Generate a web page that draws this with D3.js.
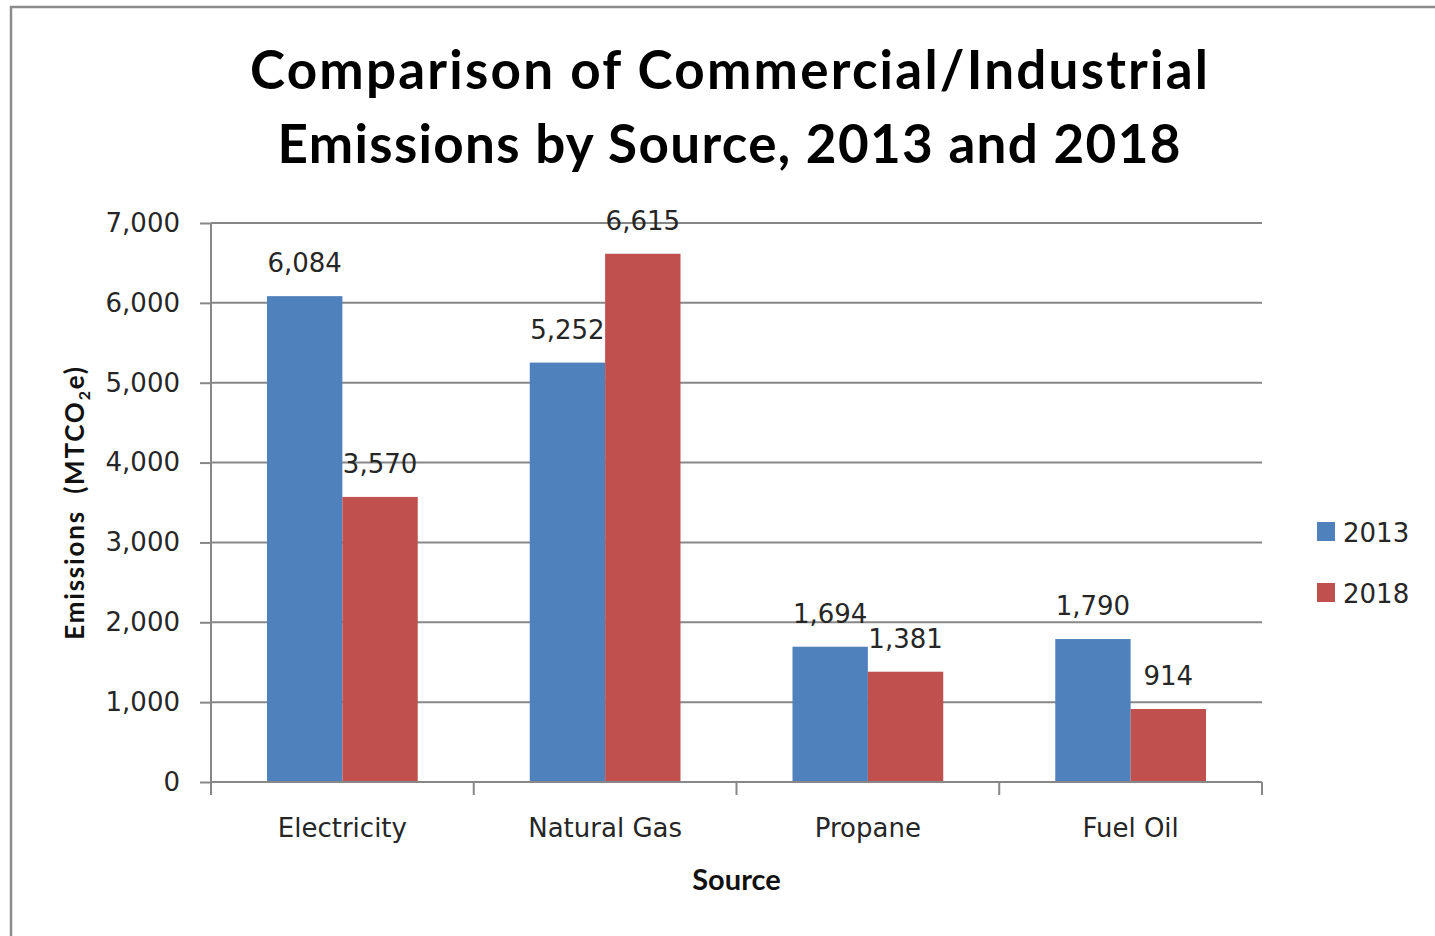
<!DOCTYPE html>
<html>
<head>
<meta charset="utf-8">
<script src="https://cdn.jsdelivr.net/npm/d3@7"></script>
<style>
  body { margin: 0; background: #fff; }
  svg { display: block; }
  .tick text { font-family: "DejaVu Sans", sans-serif; font-size: 26px; fill: #262626; }
</style>
</head>
<body>
<svg width="1435" height="936"></svg>
<script>
// data
const categories = ['Electricity', 'Natural Gas', 'Propane', 'Fuel Oil'];
const seriesNames = ['2013', '2018'];
const values2013 = [6084, 5252, 1694, 1790];
const values2018 = [3570, 6615, 1381, 914];
const yTicks = [0, 1000, 2000, 3000, 4000, 5000, 6000, 7000];
const colors = ['#4F81BD', '#C0504D'];

const margin = { left: 211, right: 173, top: 223, bottom: 154 };
const svg = d3.select('svg');
const width = +svg.attr('width');
const height = +svg.attr('height');
const gridColor = '#878787';
const fmt = d3.format(',');

// outer frame
svg.append('rect')
  .attr('x', 11).attr('y', 7)
  .attr('width', 1600).attr('height', 1200)
  .attr('fill', 'none')
  .attr('stroke', '#8c8c8c')
  .attr('stroke-width', 2.5);

const rows = categories.map((c, i) => ({ cat: c, vals: [values2013[i], values2018[i]] }));

const xScale = d3.scaleBand()
  .domain(categories)
  .range([margin.left, width - margin.right]);

const xInner = d3.scaleBand()
  .domain(seriesNames)
  .range([56, xScale.bandwidth() - 56]);

const yScale = d3.scaleLinear()
  .domain([0, 7000])
  .range([height - margin.bottom, margin.top]);

// gridlines
svg.append('g')
  .selectAll('line')
  .data(yTicks)
  .enter()
  .append('line')
  .attr('x1', margin.left)
  .attr('x2', width - margin.right)
  .attr('y1', d => yScale(d))
  .attr('y2', d => yScale(d))
  .attr('stroke', gridColor)
  .attr('stroke-width', 2);

// y axis
const yAxis = d3.axisLeft(yScale)
  .tickValues(yTicks)
  .tickFormat(fmt)
  .tickSize(11)
  .tickPadding(20);

const yG = svg.append('g')
  .attr('transform', `translate(${margin.left},0)`)
  .call(yAxis);
yG.select('.domain').remove();
yG.selectAll('.tick line').attr('stroke', gridColor).attr('stroke-width', 2);
yG.append('line')
  .attr('x1', 0).attr('x2', 0)
  .attr('y1', margin.top).attr('y2', yScale(0) + 13)
  .attr('stroke', gridColor).attr('stroke-width', 2);

// bars
const groups = svg.selectAll('.cat')
  .data(rows)
  .enter()
  .append('g')
  .attr('class', 'cat')
  .attr('transform', d => `translate(${xScale(d.cat)},0)`);

groups.selectAll('rect')
  .data(d => d.vals.map((v, i) => ({ key: seriesNames[i], v: v, i: i })))
  .enter()
  .append('rect')
  .attr('x', d => xInner(d.key))
  .attr('width', xInner.bandwidth())
  .attr('y', d => yScale(d.v))
  .attr('height', d => yScale(0) - yScale(d.v))
  .attr('fill', d => colors[d.i]);

// value labels
groups.selectAll('.val')
  .data(d => d.vals.map((v, i) => ({ key: seriesNames[i], v: v })))
  .enter()
  .append('text')
  .attr('class', 'val')
  .attr('x', d => xInner(d.key) + xInner.bandwidth() / 2)
  .attr('y', d => yScale(d.v) - 24)
  .attr('text-anchor', 'middle')
  .style('font-family', '"DejaVu Sans", sans-serif')
  .style('font-size', '26px')
  .style('fill', '#262626')
  .text(d => fmt(d.v));

// x axis
const xAxisG = svg.append('g');
xAxisG.append('line')
  .attr('x1', margin.left).attr('x2', width - margin.right)
  .attr('y1', yScale(0)).attr('y2', yScale(0))
  .attr('stroke', gridColor).attr('stroke-width', 2);
const bounds = categories.map(c => xScale(c)).concat([width - margin.right]);
xAxisG.selectAll('.xt')
  .data(bounds)
  .enter()
  .append('line')
  .attr('x1', d => d).attr('x2', d => d)
  .attr('y1', yScale(0)).attr('y2', yScale(0) + 13)
  .attr('stroke', gridColor).attr('stroke-width', 2);
xAxisG.selectAll('.xl')
  .data(categories)
  .enter()
  .append('text')
  .attr('x', d => xScale(d) + xScale.bandwidth() / 2)
  .attr('y', 837)
  .attr('text-anchor', 'middle')
  .style('font-family', '"DejaVu Sans", sans-serif')
  .style('font-size', '26px')
  .style('fill', '#262626')
  .text(d => d);

// axis titles
svg.append('text')
  .attr('x', (margin.left + width - margin.right) / 2)
  .attr('y', 890)
  .attr('text-anchor', 'middle')
  .style('font-family', 'Lato, sans-serif')
  .style('font-weight', 'bold')
  .style('font-size', '29px')
  .style('fill', '#111')
  .text('Source');

const yTitle = svg.append('text')
  .attr('transform', `translate(84, ${(yScale(0) + yScale(7000)) / 2}) rotate(-90)`)
  .attr('text-anchor', 'middle')
  .style('font-family', 'Lato, sans-serif')
  .style('font-weight', 'bold')
  .style('font-size', '26px')
  .style('letter-spacing', '1.8px')
  .style('fill', '#111');
yTitle.append('tspan').text('Emissions\u00a0 (MTCO');
yTitle.append('tspan').attr('dy', 6).style('font-size', '16px').text('2');
yTitle.append('tspan').attr('dy', -6).text('e)');

// title
const titleLines = ['Comparison of Commercial/Industrial', 'Emissions by Source, 2013 and 2018'];
const titleWidths = [958, 903];
svg.selectAll('.title')
  .data(titleLines)
  .enter()
  .append('text')
  .attr('class', 'title')
  .attr('x', 729)
  .attr('y', (d, i) => 89 + i * 74)
  .attr('text-anchor', 'middle')
  .attr('textLength', (d, i) => titleWidths[i])
  .attr('lengthAdjust', 'spacing')
  .style('font-family', 'Lato, sans-serif')
  .style('font-weight', 'bold')
  .style('font-size', '53px')
  .style('fill', '#000')
  .text(d => d);

// legend
const legend = svg.selectAll('.legend')
  .data(seriesNames)
  .enter()
  .append('g')
  .attr('class', 'legend')
  .attr('transform', (d, i) => `translate(1317, ${522 + i * 61})`);
legend.append('rect')
  .attr('width', 18).attr('height', 19)
  .attr('fill', (d, i) => colors[i]);
legend.append('text')
  .attr('x', 26).attr('y', 20)
  .style('font-family', '"DejaVu Sans", sans-serif')
  .style('font-size', '26px')
  .style('fill', '#262626')
  .text(d => d);
</script>
</body>
</html>
